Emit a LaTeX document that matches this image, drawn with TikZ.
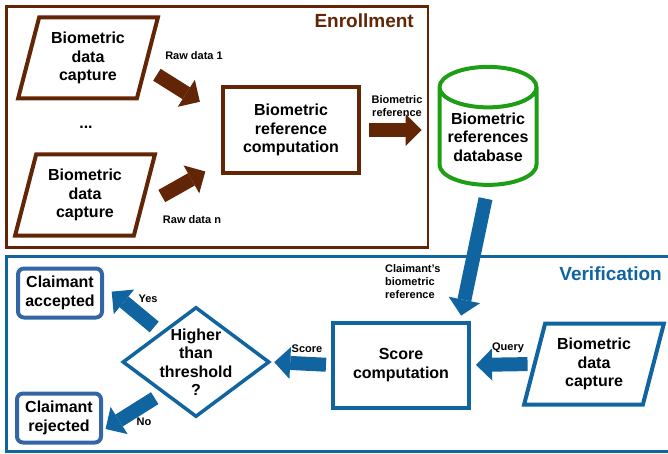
\documentclass[tikz,border=0pt]{standalone}
\usepackage{fontspec}
\setmainfont{Liberation Sans}
\usetikzlibrary{arrows.meta, positioning, shapes.geometric, calc}
\definecolor{EnrBrown}{RGB}{98, 38, 6}
\definecolor{VerBlue}{RGB}{16, 100, 160}
\definecolor{BoxBlue}{RGB}{52, 101, 164}
\definecolor{DbGreen}{RGB}{30, 158, 20}

\begin{document}
\begin{tikzpicture}[x=1pt, y=-1pt,
  txt/.style={font=\fontsize{16}{18.5}\selectfont\bfseries, align=center},
  lab/.style={font=\fontsize{11}{13}\selectfont\bfseries, align=center, inner sep=0pt},
  ttl/.style={font=\fontsize{19}{22}\selectfont\bfseries, inner sep=0pt},
  capt/.style={txt, trapezium, trapezium left angle=73, trapezium right angle=107, trapezium stretches=true, minimum width=140pt, minimum height=81pt, line width=4pt, inner sep=0pt},
  proc/.style={txt, rectangle, line width=4pt, inner sep=0pt},
  verdict/.style={txt, draw=BoxBlue, rounded corners=6pt, line width=4pt, minimum width=84pt, minimum height=49pt, inner sep=0pt},
  barr/.style={-{Triangle[length=16pt, width=32pt, line width=0pt]}, line width=14pt, EnrBrown},
  varr/.style={-{Triangle[length=16pt, width=32pt, line width=0pt]}, line width=14pt, VerBlue}]
\useasboundingbox (0,0) rectangle (668,454);
% frames
\draw[EnrBrown, line width=2.5pt] (6.5,6.5) rectangle (428,247.5);
\draw[VerBlue, line width=3pt] (672,256.5) -- (6.5,256.5) -- (6.5,451.5) -- (672,451.5);
\node[ttl, text=EnrBrown, anchor=east] (enr) at (414,21) {Enrollment};
\node[ttl, text=VerBlue, anchor=east] (ver) at (662,274) {Verification};
% enrollment
\node[capt, draw=EnrBrown] (cap1) at (88,58) {Biometric\\data\\capture};
\node[txt] (dots) at (86,127) {...};
\node[capt, draw=EnrBrown] (cap2) at (85,195) {Biometric\\data\\capture};
\node[proc, draw=EnrBrown, minimum width=136pt, minimum height=86pt] (refc) at (291,130) {Biometric\\reference\\computation};
\node[txt, cylinder, shape border rotate=90, aspect=0.5, draw=DbGreen, line width=4pt, minimum width=97pt, minimum height=118pt, inner sep=0pt] (db) at (488,137) {Biometric\\references\\database};
% verification
\node[proc, draw=VerBlue, minimum width=136pt, minimum height=85pt] (score) at (401,365) {Score\\computation};
\node[capt, draw=VerBlue] (cap3) at (594,364) {Biometric\\data\\capture};
\node[txt, diamond, draw=VerBlue, line width=3.5pt, minimum width=147pt, minimum height=110pt, inner sep=-15pt] (dec) at (196,362) {Higher\\than\\threshold\\?};
\node[verdict] (acc) at (60,293) {Claimant\\accepted};
\node[verdict] (rej) at (59,418) {Claimant\\rejected};
% labels
\node[lab] (lraw1) at (194,56) {Raw data 1};
\node[lab] (lrawn) at (192,220) {Raw data n};
\node[lab] (lref) at (397,106) {Biometric\\reference};
\node[lab, align=left, anchor=west] (lclaim) at (385,282) {Claimant's\\biometric\\reference};
\node[lab] (lquery) at (508,348) {Query};
\node[lab] (lscore) at (307,349) {Score};
\node[lab] (lyes) at (148,299) {Yes};
\node[lab] (lno) at (144,422) {No};
% arrows
\draw[barr, shorten <=12pt, shorten >=25pt] (cap1.-10) -- (refc.168);
\draw[barr, shorten <=21pt, shorten >=18pt] (cap2.-11) -- (refc.205);
\draw[barr, shorten <=8pt, shorten >=16pt] (refc.east) -- (refc.east -| db.180);
\draw[varr, shorten <=12pt, shorten >=5pt] (db.270) -- (score.37);
\draw[varr, shorten <=5pt, shorten >=5pt] (cap3.west) -- (score.east);
\draw[varr, shorten <=5pt, shorten >=3pt] (score.west) -- (dec.east);
\draw[varr, shorten <=8pt, shorten >=10pt] (dec.140) -- (acc.10);
\draw[varr, shorten <=9pt, shorten >=3pt] (dec.223) -- (rej.-16);
\end{tikzpicture}
\end{document}
